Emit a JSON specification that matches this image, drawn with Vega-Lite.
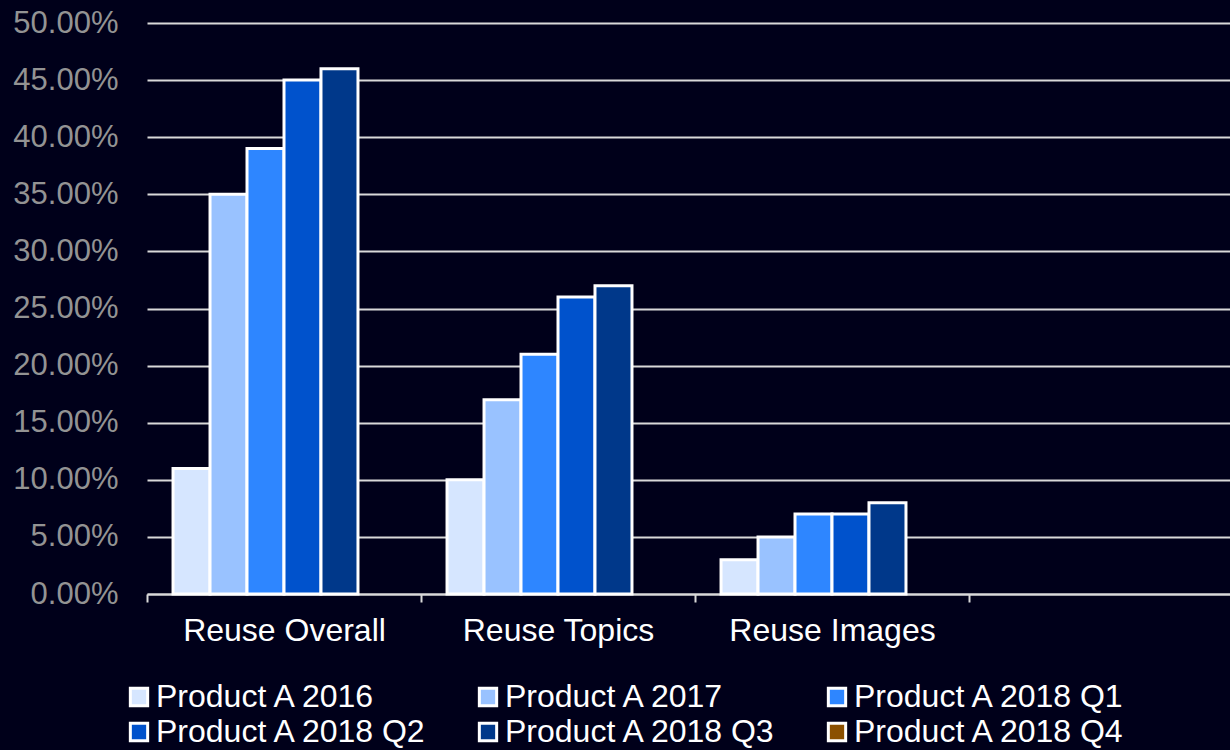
{
  "$schema": "https://vega.github.io/schema/vega-lite/v6.json",
  "autosize": {"type": "none"},
  "width": 1083,
  "height": 571,
  "padding": {"left": 147, "top": 23, "right": 0, "bottom": 156},
  "background": "#00001a",
  "config": {
    "view": {"stroke": null},
    "font": "Liberation Sans"
  },
  "data": {
    "values": [
      {"category": "Reuse Overall", "series": "Product A 2016", "value": 0.11},
      {"category": "Reuse Overall", "series": "Product A 2017", "value": 0.35},
      {"category": "Reuse Overall", "series": "Product A 2018 Q1", "value": 0.39},
      {"category": "Reuse Overall", "series": "Product A 2018 Q2", "value": 0.45},
      {"category": "Reuse Overall", "series": "Product A 2018 Q3", "value": 0.46},
      {"category": "Reuse Topics", "series": "Product A 2016", "value": 0.10},
      {"category": "Reuse Topics", "series": "Product A 2017", "value": 0.17},
      {"category": "Reuse Topics", "series": "Product A 2018 Q1", "value": 0.21},
      {"category": "Reuse Topics", "series": "Product A 2018 Q2", "value": 0.26},
      {"category": "Reuse Topics", "series": "Product A 2018 Q3", "value": 0.27},
      {"category": "Reuse Images", "series": "Product A 2016", "value": 0.03},
      {"category": "Reuse Images", "series": "Product A 2017", "value": 0.05},
      {"category": "Reuse Images", "series": "Product A 2018 Q1", "value": 0.07},
      {"category": "Reuse Images", "series": "Product A 2018 Q2", "value": 0.07},
      {"category": "Reuse Images", "series": "Product A 2018 Q3", "value": 0.08}
    ]
  },
  "mark": {"type": "bar", "stroke": "white", "strokeWidth": 3, "strokeJoin": "miter"},
  "encoding": {
    "x": {
      "field": "category",
      "type": "nominal",
      "sort": null,
      "scale": {
        "domain": ["Reuse Overall", "Reuse Topics", "Reuse Images", ""],
        "range": [0, 1096],
        "paddingInner": 0.19,
        "paddingOuter": 0.095
      },
      "axis": {
        "title": null,
        "labelAngle": 0,
        "labelColor": "white",
        "labelFontSize": 32,
        "labelLimit": 400,
        "labelPadding": 13,
        "labelOffset": 137,
        "domainColor": "#d9d9d9",
        "domainWidth": 2,
        "tickColor": "#d9d9d9",
        "tickWidth": 2,
        "tickSize": 8,
        "tickOffset": -137,
        "grid": false
      }
    },
    "xOffset": {
      "field": "series",
      "type": "nominal",
      "scale": {
        "domain": ["Product A 2016", "Product A 2017", "Product A 2018 Q1", "Product A 2018 Q2", "Product A 2018 Q3", "Product A 2018 Q4"],
        "paddingInner": 0,
        "paddingOuter": 0
      }
    },
    "y": {
      "field": "value",
      "type": "quantitative",
      "scale": {"domain": [0, 0.5], "nice": false},
      "axis": {
        "title": null,
        "format": ".2%",
        "values": [0, 0.05, 0.1, 0.15, 0.2, 0.25, 0.3, 0.35, 0.4, 0.45, 0.5],
        "labelColor": "#939393",
        "labelFontSize": 31,
        "labelPadding": 29,
        "ticks": false,
        "tickSize": 0,
        "domain": false,
        "gridColor": "#d9d9d9",
        "gridWidth": 2
      }
    },
    "color": {
      "field": "series",
      "type": "nominal",
      "scale": {
        "domain": ["Product A 2016", "Product A 2017", "Product A 2018 Q1", "Product A 2018 Q2", "Product A 2018 Q3", "Product A 2018 Q4"],
        "range": ["#d6e6ff", "#99c2ff", "#2e86ff", "#0052cc", "#00388a", "#8b5000"]
      },
      "legend": {
        "title": null,
        "orient": "none",
        "legendX": -24,
        "legendY": 658,
        "direction": "horizontal",
        "columns": 3,
        "gridAlign": "all",
        "columnPadding": 43,
        "rowPadding": 3,
        "symbolType": "square",
        "symbolSize": 300,
        "symbolStrokeColor": "white",
        "symbolStrokeWidth": 3,
        "symbolOpacity": 1,
        "labelColor": "white",
        "labelFontSize": 32,
        "labelOffset": 1,
        "labelLimit": 400
      }
    }
  }
}
